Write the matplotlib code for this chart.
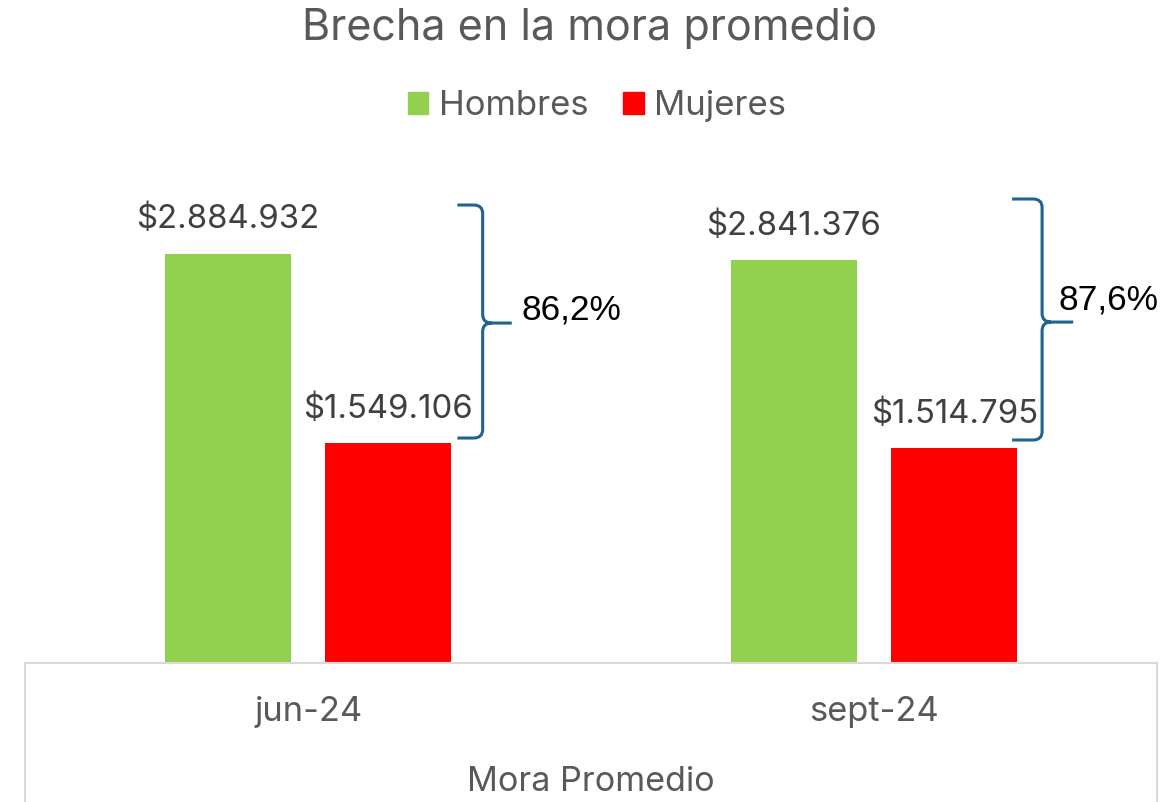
import matplotlib
matplotlib.use("Agg")
import matplotlib.pyplot as plt
from matplotlib.patches import Patch, PathPatch
from matplotlib.path import Path
import matplotlib.transforms as mtransforms

# ---- data ----
categories = ["jun-24", "sept-24"]
hombres = [2884932, 2841376]
mujeres = [1549106, 1514795]
series_names = ["Hombres", "Mujeres"]
group_label = "Mora Promedio"
title = "Brecha en la mora promedio"

# ---- styles ----
GREEN = "#92D050"
RED = "#FF0000"
GRAY_TXT = "#595959"
LABEL_TXT = "#404040"
BRACE = "#1F6391"
LINE = "#D9D9D9"
FONT = ["Inter", "DejaVu Sans"]

W, H = 1176, 802
fig = plt.figure(figsize=(W / 100, H / 100), dpi=100)
plt.rcParams["font.family"] = FONT

ax_left, ax_right, ax_bottom, ax_top = 25, 1157, 663, 181
ax = fig.add_axes([ax_left / W, (H - ax_bottom) / H,
                   (ax_right - ax_left) / W, (ax_bottom - ax_top) / H])
ax.set_xlim(-0.5, 1.5)
ax.set_ylim(0, 3.4e6)

bw = 0.223
off = 0.142
x = range(len(categories))
xs_h = [i - off for i in x]
xs_m = [i + off for i in x]
b1 = ax.bar(xs_h, hombres, width=bw, color=GREEN, zorder=2)
b2 = ax.bar(xs_m, mujeres, width=bw, color=RED, zorder=2)


def fmt(v):
    return "$" + f"{v:,}".replace(",", ".")


for xs, vals in ((xs_h, hombres), (xs_m, mujeres)):
    for xi, v in zip(xs, vals):
        ax.annotate(fmt(v), (xi, v), xytext=(0, 24.5), textcoords="offset points",
                    ha="center", va="center", fontsize=23.7, color=LABEL_TXT,
                    annotation_clip=False)

# axes cosmetics
for s in ("top", "right", "left"):
    ax.spines[s].set_visible(False)
ax.spines["bottom"].set_color(LINE)
ax.spines["bottom"].set_linewidth(1.5)
ax.set_yticks([])
ax.set_xticks(list(x))
ax.set_xticklabels(categories, fontsize=24.8, color=GRAY_TXT)
ax.tick_params(axis="x", length=0, pad=24)

# category table box lines
tr = mtransforms.blended_transform_factory(ax.transData, fig.transFigure)
for xv in (-0.5, 1.5):
    ax.plot([xv, xv], [0, (H - ax_bottom) / H], color=LINE, lw=1.5,
            transform=tr, clip_on=False)
fig.text((ax_left + ax_right) / 2 / W, (H - 782) / H, group_label,
         ha="center", va="center", fontsize=24.6, color=GRAY_TXT)

# braces (annotation layout, per group)
brace_x = [0.3086, 1.297]
brace_left = [0.264, 1.244]
brace_tip = [0.36, 1.352]
brace_top = [3230600, 3273000]
brace_bot = [1587000, 1573000]
brace_mid = [2398000, 2405000]
pct_pos = [(0.3775, 2490000), (1.3254, 2560000)]
rx, ry = 0.016, 60000
for i in range(len(categories)):
    xv, xl, xt = brace_x[i], brace_left[i], brace_tip[i]
    t, b, m = brace_top[i], brace_bot[i], brace_mid[i]
    verts = [(xl, t), (xv - rx, t), (xv, t), (xv, t - ry),
             (xv, m + ry), (xv, m), (xv + rx, m), (xt, m),
             (xv + rx, m), (xv, m), (xv, m - ry),
             (xv, b + ry), (xv, b), (xv - rx, b), (xl, b)]
    codes = [Path.MOVETO, Path.LINETO, Path.CURVE3, Path.CURVE3,
             Path.LINETO, Path.CURVE3, Path.CURVE3, Path.LINETO,
             Path.MOVETO, Path.CURVE3, Path.CURVE3,
             Path.LINETO, Path.CURVE3, Path.CURVE3, Path.LINETO]
    ax.add_patch(PathPatch(Path(verts, codes), fill=False, edgecolor=BRACE,
                           lw=2.2, clip_on=False, zorder=3))
    pct = (hombres[i] / mujeres[i] - 1) * 100
    ax.text(pct_pos[i][0], pct_pos[i][1], f"{pct:.1f}%".replace(".", ","),
            ha="left", va="center", fontsize=25.5, color="black",
            family=["Liberation Sans", "DejaVu Sans"], clip_on=False)

# title & legend
fig.text(590 / W, (H - 28) / H, title, ha="center", va="center",
         fontsize=31, color=GRAY_TXT)
handles = [Patch(color=GREEN), Patch(color=RED)]
leg = fig.legend(handles, series_names, loc="center", ncol=2,
                 bbox_to_anchor=(597 / W, (H - 106) / H), frameon=False,
                 fontsize=25, handlelength=0.6, handleheight=0.6,
                 handletextpad=0.3, columnspacing=1.0, labelcolor=GRAY_TXT)

fig.savefig("out.png", dpi=100)
